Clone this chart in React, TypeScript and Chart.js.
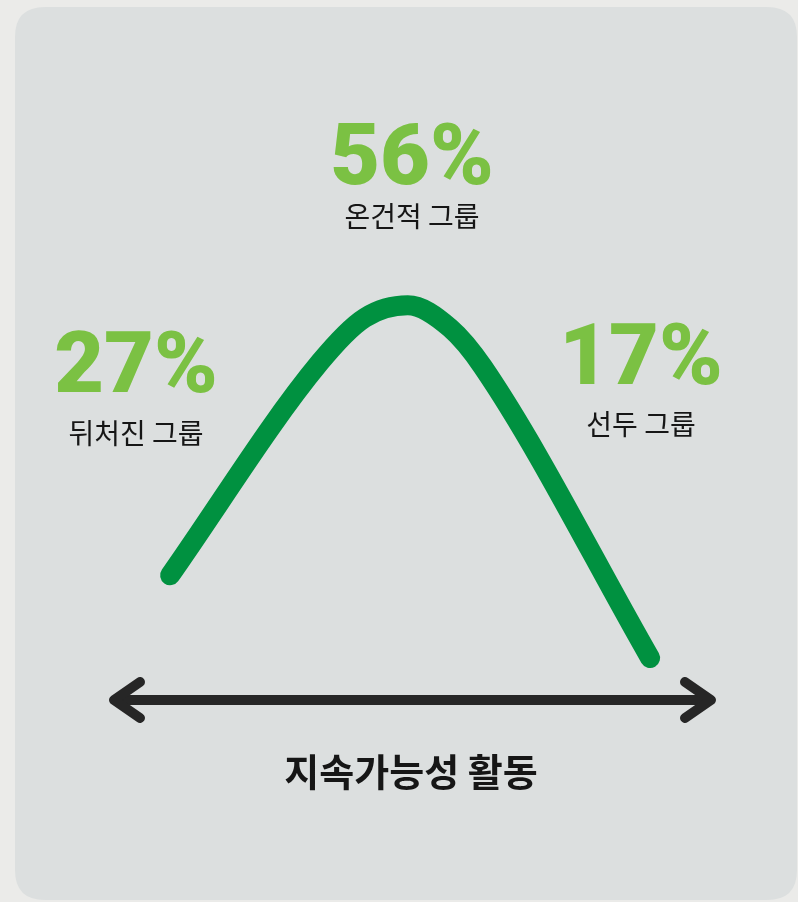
import React, { useEffect, useRef } from "react";
import { Chart, registerables } from "chart.js";

Chart.register(...registerables);

// Sustainability activity (x, 0–100) vs. relative share of companies (y, 0–100)
const curveX = [9.4, 34.5, 42.0, 49.2, 56.3, 61.8, 89.8];
const curveY = [20.8, 56.3, 63.7, 65.8, 62.0, 55.5, 7.0];

const groupNames = ["뒤처진 그룹", "온건적 그룹", "선두 그룹"];
const groupShares = [27, 56, 17];
const axisTitle = "지속가능성 활동";

const W = 798;
const H = 902;

const decorPlugin = {
  id: "decor",
  beforeDraw(chart: any) {
    const ctx = chart.ctx;
    ctx.save();
    ctx.fillStyle = "#ebebe9";
    ctx.fillRect(0, 0, W, H);
    const x = 15, y = 7, w = 782, h = 893, r = 30;
    ctx.beginPath();
    ctx.moveTo(x + r, y);
    ctx.lineTo(x + w - r, y);
    ctx.quadraticCurveTo(x + w, y, x + w, y + r);
    ctx.lineTo(x + w, y + h - r);
    ctx.quadraticCurveTo(x + w, y + h, x + w - r, y + h);
    ctx.lineTo(x + r, y + h);
    ctx.quadraticCurveTo(x, y + h, x, y + h - r);
    ctx.lineTo(x, y + r);
    ctx.quadraticCurveTo(x, y, x + r, y);
    ctx.closePath();
    ctx.fillStyle = "#dcdfdf";
    ctx.fill();
    ctx.restore();
  },
  afterDatasetsDraw(chart: any) {
    const ctx = chart.ctx;
    const xs = chart.scales.x;
    const ys = chart.scales.y;
    ctx.save();
    // double-headed arrow along the x axis
    const ay = ys.getPixelForValue(0);
    const x0 = xs.left;
    const x1 = xs.right;
    ctx.strokeStyle = "#262626";
    ctx.lineWidth = 10;
    ctx.lineCap = "round";
    ctx.lineJoin = "round";
    ctx.beginPath();
    ctx.moveTo(x0 + 2, ay);
    ctx.lineTo(x1 - 2, ay);
    ctx.stroke();
    ctx.beginPath();
    ctx.moveTo(x0 + 26, ay - 18);
    ctx.lineTo(x0, ay);
    ctx.lineTo(x0 + 26, ay + 18);
    ctx.stroke();
    ctx.beginPath();
    ctx.moveTo(x1 - 26, ay - 18);
    ctx.lineTo(x1, ay);
    ctx.lineTo(x1 - 26, ay + 18);
    ctx.stroke();

    // axis title
    ctx.fillStyle = "#161616";
    ctx.textAlign = "center";
    ctx.textBaseline = "middle";
    ctx.font = 'bold 38px "Noto Sans CJK KR"';
    ctx.fillText(axisTitle, 411, 772);

    // group annotations: [centerX, percent baseline, label middle]
    const spots = [
      [136, 392, 433],
      [412, 184, 216],
      [641, 384, 424],
    ];
    groupNames.forEach((name, i) => {
      const [cx, by, ly] = spots[i];
      ctx.fillStyle = "#7bc143";
      ctx.font = '900 86px Roboto';
      ctx.textBaseline = "alphabetic";
      ctx.fillText(groupShares[i] + "%", cx, by);
      ctx.fillStyle = "#161616";
      ctx.font = '28px "Noto Sans CJK KR"';
      ctx.textBaseline = "middle";
      ctx.fillText(name, cx, ly);
    });
    ctx.restore();
  },
};

export default function App() {
  const ref = useRef<HTMLCanvasElement | null>(null);
  useEffect(() => {
    if (!ref.current) return;
    const chart = new Chart(ref.current, {
      type: "line",
      data: {
        datasets: [
          {
            data: curveX.map((x, i) => ({ x, y: curveY[i] })),
            borderColor: "#009140",
            borderWidth: 20,
            borderCapStyle: "round",
            borderJoinStyle: "round",
            pointRadius: 0,
            cubicInterpolationMode: "monotone",
            fill: false,
          },
        ],
      },
      options: {
        responsive: false,
        animation: false,
        layout: { padding: { left: 114, right: 87, top: 100, bottom: 202 } },
        plugins: { legend: { display: false }, tooltip: { enabled: false } },
        scales: {
          x: { type: "linear", min: 0, max: 100, display: false },
          y: { type: "linear", min: 0, max: 100, display: false },
        },
      },
      plugins: [decorPlugin],
    } as any);
    return () => chart.destroy();
  }, []);
  return (
    <div style={{ position: "absolute", left: 0, top: 0, width: W, height: H }}>
      <canvas ref={ref} width={W} height={H} style={{ display: "block" }} />
    </div>
  );
}
